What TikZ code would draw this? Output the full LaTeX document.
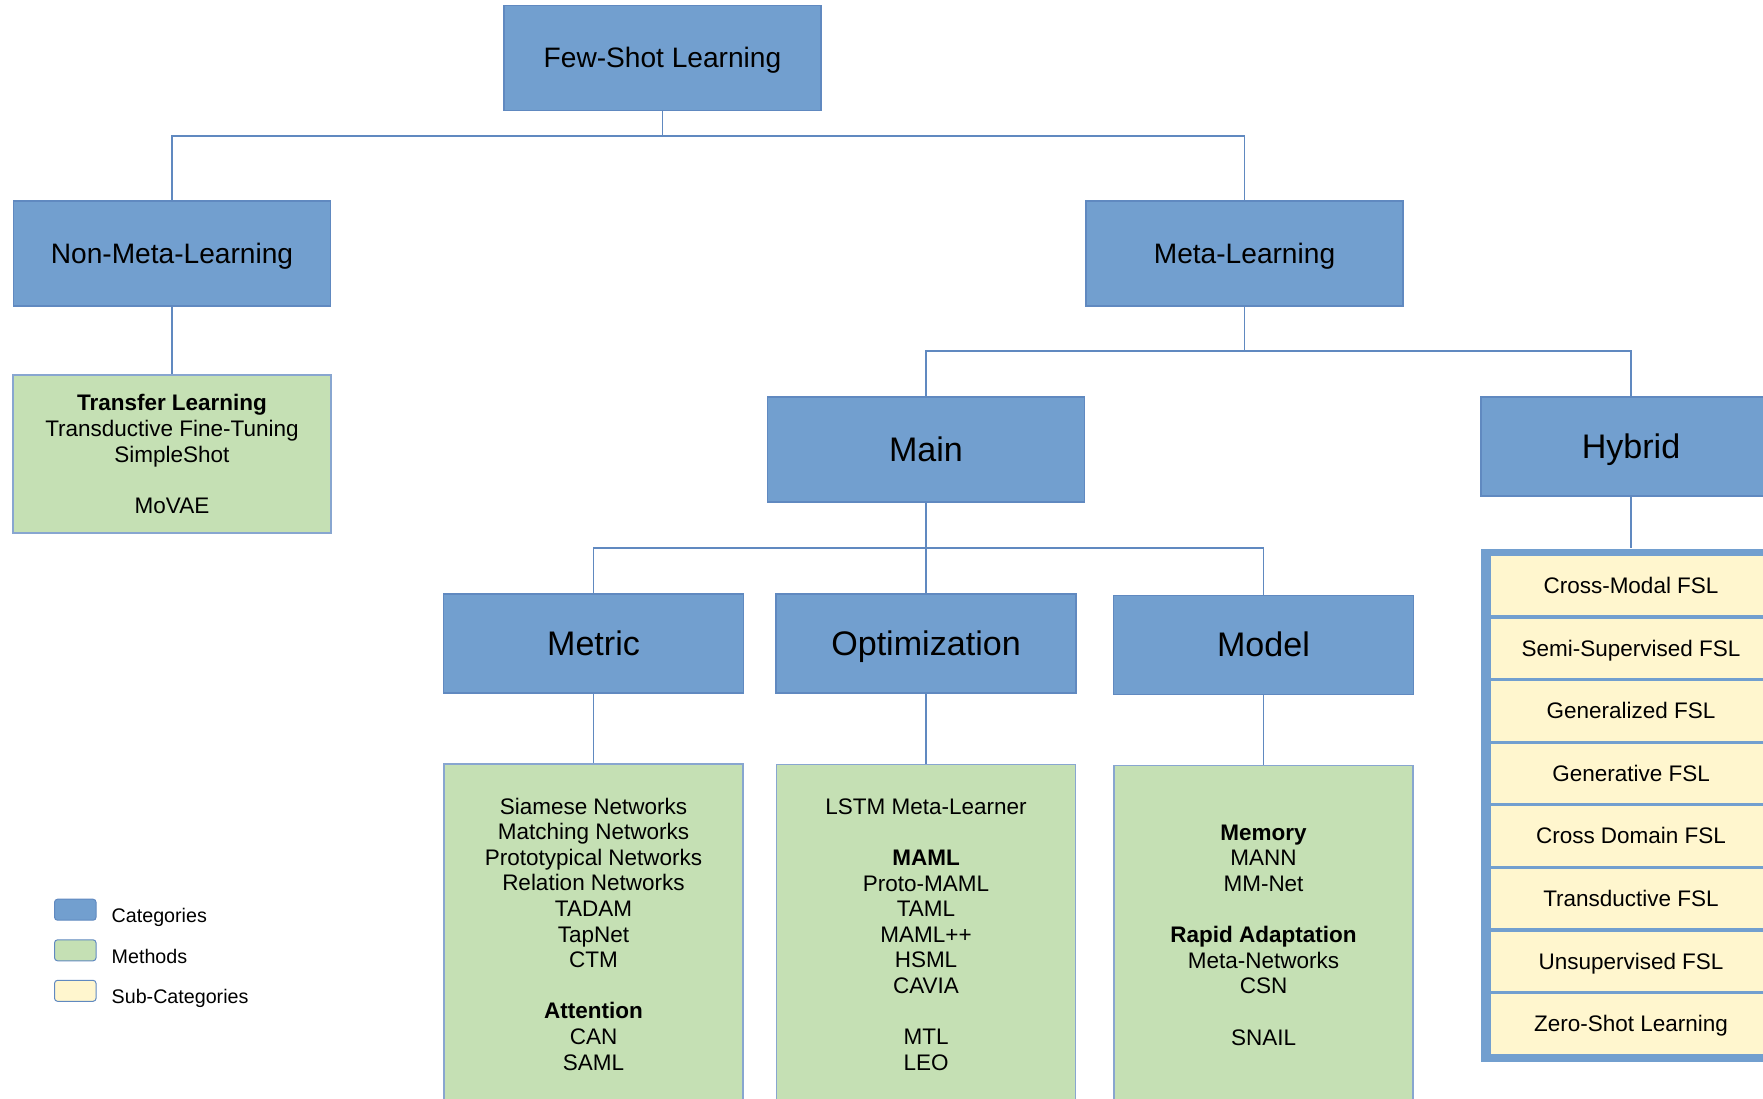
\documentclass[tikz,border=0pt]{standalone}
\usepackage{fontspec}
\setmainfont{Liberation Sans}
\usetikzlibrary{positioning,calc}
\definecolor{catblue}{RGB}{114,159,207}
\definecolor{edgeblue}{RGB}{96,137,192}
\definecolor{methgreen}{RGB}{197,224,180}
\definecolor{subyellow}{RGB}{255,246,206}
\tikzset{
  link/.style={draw=edgeblue,line width=0.15mm},
  catbox/.style={draw=edgeblue,line width=0.12mm,fill=catblue,inner sep=0pt,
                 minimum width=31.7mm,minimum height=10.5mm,
                 text height=7.24pt,text depth=1.7pt,
                 font=\fontsize{8pt}{9.6pt}\selectfont},
  bigcat/.style={catbox,minimum width=30mm,minimum height=9.9mm,
                 text height=8.78pt,text depth=2.06pt,
                 font=\fontsize{9.7pt}{11.6pt}\selectfont},
  methbox/.style={draw=edgeblue!75,line width=0.12mm,fill=methgreen,align=center,
                  inner sep=0pt,minimum width=29.9mm,
                  font=\fontsize{6.4pt}{7.28pt}\selectfont},
  subcell/.style={fill=subyellow,inner sep=0pt,outer sep=0pt,
                  minimum width=28mm,minimum height=5.94mm,
                  text height=5.79pt,text depth=1.36pt,
                  font=\fontsize{6.4pt}{7.28pt}\selectfont},
  swatch/.style={draw=edgeblue,line width=0.1mm,rounded corners=0.3mm,inner sep=0pt,
                 minimum width=4.15mm,minimum height=2.1mm},
  legtext/.style={anchor=base west,inner sep=0pt,font=\fontsize{5.6pt}{6.7pt}\selectfont}
}
\newcommand{\blankline}{\\[2.56mm]}

\begin{document}
\begin{tikzpicture}[x=0.1mm,y=-0.1mm,node distance=0.32mm]
  \useasboundingbox (0,0) rectangle (1763,1098);

  % top levels
  \node[catbox] (fsl) at (662.5,58) {Few-Shot Learning};
  \node[catbox] (nonmeta) at (172,253.5) {Non-Meta-Learning};
  \node[catbox] (meta) at (1244.5,253.5) {Meta-Learning};
  \node[methbox,minimum width=31.8mm,minimum height=15.8mm] (transfer) at (172,454)
    {\textbf{Transfer Learning}\\Transductive Fine-Tuning\\SimpleShot\blankline MoVAE};

  \node[bigcat,minimum width=31.7mm,minimum height=10.5mm] (main) at (926,449.5) {Main};
  \node[bigcat] (hybrid) at (1631,446.5) {Hybrid};

  % main families
  \node[bigcat] (metric) at (593.5,643.5) {Metric};
  \node[bigcat] (optim) at (926,643.5) {Optimization};
  \node[bigcat] (model) at (1263.5,645) {Model};

  \node[methbox,minimum height=34mm] (metricm) at (593.5,934)
    {Siamese Networks\\Matching Networks\\Prototypical Networks\\Relation Networks\\
     TADAM\\TapNet\\CTM\blankline\textbf{Attention}\\CAN\\SAML};
  \node[methbox,minimum height=34mm] (optimm) at (926,934.5)
    {LSTM Meta-Learner\blankline\textbf{MAML}\\Proto-MAML\\TAML\\MAML++\\HSML\\CAVIA\blankline
     MTL\\LEO};
  \node[methbox,minimum height=33.9mm] (modelm) at (1263.5,935)
    {\textbf{Memory}\\MANN\\MM-Net\blankline\textbf{Rapid Adaptation}\\Meta-Networks\\CSN\blankline
     SNAIL};

  % hybrid list
  \node[fill=catblue,inner sep=0pt,minimum width=30mm,minimum height=51.3mm] (hyblist)
    at (1631,805.5) {};
  \node[subcell] (cmodal) at (1631,585.7) {Cross-Modal FSL};
  \node[subcell,below=of cmodal] (semisup) {Semi-Supervised FSL};
  \node[subcell,below=of semisup] (general) {Generalized FSL};
  \node[subcell,below=of general] (generat) {Generative FSL};
  \node[subcell,below=of generat] (cdomain) {Cross Domain FSL};
  \node[subcell,below=of cdomain] (transd) {Transductive FSL};
  \node[subcell,below=of transd] (unsup) {Unsupervised FSL};
  \node[subcell,below=of unsup] (zeroshot) {Zero-Shot Learning};

  % tree links
  \coordinate (bus1) at (662.5,136);
  \coordinate (bus2) at (1244.5,351);
  \coordinate (bus3) at (926,548);
  \draw[link] (fsl) -- (bus1);
  \draw[link] (nonmeta.north) |- (bus1) -| (meta.north);
  \draw[link] (nonmeta) -- (transfer);
  \draw[link] (meta) -- (bus2);
  \draw[link] (main.north) |- (bus2) -| (hybrid.north);
  \draw[link] (hybrid) -- (hyblist);
  \draw[link] (main) -- (bus3);
  \draw[link] (metric.north) |- (bus3) -| (model.north);
  \draw[link] (bus3) -- (optim);
  \draw[link] (metric) -- (metricm);
  \draw[link] (optim) -- (optimm);
  \draw[link] (model) -- (modelm);

  % legend
  \node[swatch,fill=catblue] (legcat) at (75.3,909.7) {};
  \node[swatch,fill=methgreen] (legmeth) at (75.3,950.3) {};
  \node[swatch,fill=subyellow] (legsub) at (75.3,990.8) {};
  \node[legtext] (legcattxt) at (111,922) {Categories};
  \node[legtext] (legmethtxt) at (111,963) {Methods};
  \node[legtext] (legsubtxt) at (111,1003.5) {Sub-Categories};
\end{tikzpicture}
\end{document}
